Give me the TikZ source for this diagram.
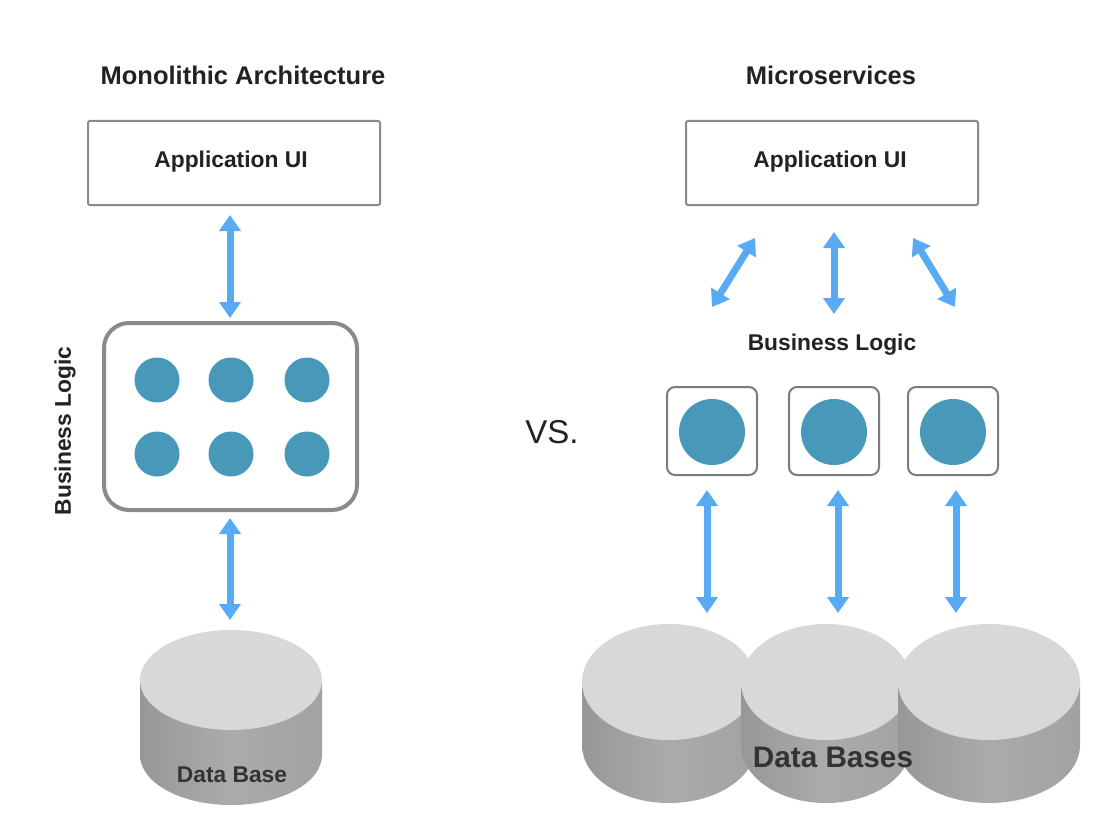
\documentclass[tikz,border=0pt]{standalone}
\usepackage{fontspec}
\setmainfont{Liberation Sans}
\usetikzlibrary{arrows.meta}
\definecolor{arrowblue}{HTML}{58AAF5}
\definecolor{dotblue}{HTML}{4899B9}
\definecolor{boxgray}{HTML}{8A8A8A}
\definecolor{txtdark}{HTML}{222222}
\definecolor{dbtop}{HTML}{D8D8D8}
\definecolor{dbside}{HTML}{ABABAB}
\definecolor{dbleft}{HTML}{979797}
\definecolor{dbright}{HTML}{A2A2A2}
\tikzset{
  lbl/.style={font=\bfseries\fontsize{22.8}{25}\selectfont, text=txtdark, inner sep=0pt},
  title/.style={font=\bfseries\fontsize{25.5}{28}\selectfont, text=txtdark, inner sep=0pt},
  uibox/.style={draw=boxgray, line width=2pt, rounded corners=2pt, fill=white},
  bigbox/.style={draw=boxgray, line width=4pt, rounded corners=25pt, fill=white},
  smallbox/.style={draw=boxgray!90!black, line width=2pt, rounded corners=8pt, fill=white},
  dot/.style={fill=dotblue},
  dblarrow/.style={draw=arrowblue, line width=7pt, {Triangle[width=21pt,length=16pt]}-{Triangle[width=21pt,length=16pt]}, fill=arrowblue},
}
\newcommand{\dbcyl}[5]{% cx, ytop, ybot, rx, ry
  \shade[left color=dbleft, right color=dbright, middle color=dbside] (#1-#4,#2) rectangle (#1+#4,#3);
  \shade[left color=dbleft, right color=dbright, middle color=dbside] (#1,#3) ellipse [x radius=#4, y radius=#5];
  \fill[dbtop] (#1,#2) ellipse [x radius=#4, y radius=#5];
}
\begin{document}
\begin{tikzpicture}[x=1pt,y=-1pt]
\useasboundingbox[fill=white] (0,0) rectangle (1102,832);

% ---------- Monolithic ----------
\node[title] (t1) at (243,75) {Monolithic Architecture};
\node[uibox, minimum width=292pt, minimum height=84pt] (ui1) at (234,163) {};
\node[lbl] (ui1t) at (231,162) {Application UI};
\node[bigbox, minimum width=253pt, minimum height=187pt] (bl1) at (230.5,416.5) {};
\foreach \x/\n in {157/a,231/b,307/c}{
  \fill[dot] (\x,380) circle [radius=22.5];
  \coordinate (d1\n) at (\x,380);
  \fill[dot] (\x,454) circle [radius=22.5];
  \coordinate (d2\n) at (\x,454);
}
\node[lbl, rotate=90] (bl1t) at (65,431) {Business Logic};

\dbcyl{231}{680}{755}{91}{50}
\node[lbl, text=black!80] (db1) at (232,775) {Data Base};
\coordinate (db1top) at (230,620);
\coordinate (bl1s) at (230,518);
\coordinate (ui1s) at (230,215);
\coordinate (bl1n) at (230,318);

\draw[dblarrow] (ui1s) -- (bl1n);
\draw[dblarrow] (bl1s) -- (db1top);

% ---------- Microservices ----------
\node[title] (t2) at (831,75) {Microservices};
\node[uibox, minimum width=292pt, minimum height=84pt] (ui2) at (832,163) {};
\node[lbl] (ui2t) at (830,162) {Application UI};
\node[lbl] (bl2t) at (832,345) {Business Logic};

\coordinate (la1) at (755,238); \coordinate (la2) at (712,307);
\coordinate (ma1) at (834,232); \coordinate (ma2) at (834,314);
\coordinate (ra1) at (913,238); \coordinate (ra2) at (955,307);
\draw[dblarrow] (la1) -- (la2);
\draw[dblarrow] (ma1) -- (ma2);
\draw[dblarrow] (ra1) -- (ra2);

\foreach \x/\n in {712/a,834/b,953/c}{
  \node[smallbox, minimum width=90pt, minimum height=88pt] (sb\n) at (\x,431) {};
  \fill[dot] (\x,432) circle [radius=33];
  \coordinate (sd\n) at (\x,432);
}

\node[font=\fontsize{33}{36}\selectfont, text=txtdark, inner sep=0pt] (vs) at (552,432) {VS.};

\dbcyl{669}{682}{745}{87}{58}
\dbcyl{826}{682}{745}{85}{58}
\dbcyl{989}{682}{745}{91}{58}
\node[font=\bfseries\fontsize{29.7}{32}\selectfont, text=black!80, inner sep=0pt] (db2) at (833,757) {Data Bases};

\coordinate (s1) at (707,490); \coordinate (s2) at (838,490); \coordinate (s3) at (956,490);
\coordinate (e1) at (707,613); \coordinate (e2) at (838,613); \coordinate (e3) at (956,613);
\draw[dblarrow] (s1) -- (e1);
\draw[dblarrow] (s2) -- (e2);
\draw[dblarrow] (s3) -- (e3);
\end{tikzpicture}
\end{document}
